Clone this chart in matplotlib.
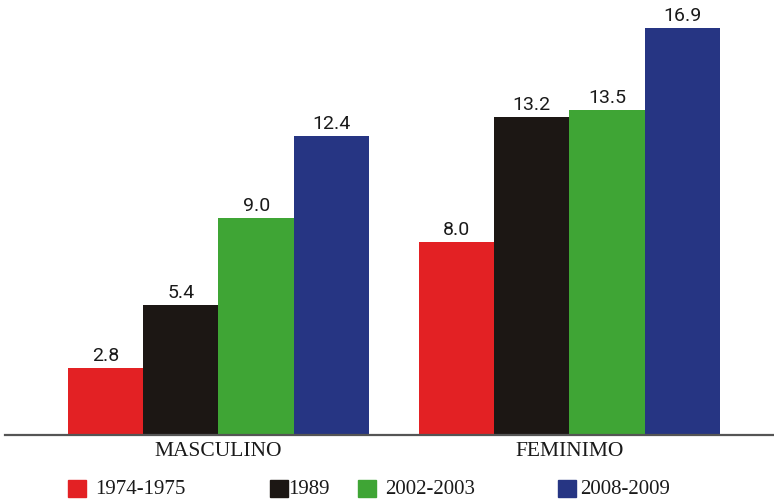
import matplotlib
matplotlib.use("Agg")

import matplotlib.pyplot as plt
import numpy as np

# Data
groups = ["MASCULINO", "FEMINIMO"]
periods = ["1974-1975", "1989", "2002-2003", "2008-2009"]
masculino = [2.8, 5.4, 9.0, 12.4]
feminimo = [8.0, 13.2, 13.5, 16.9]

COLORS = ["#E32124", "#1C1714", "#3FA535", "#263583"]

fig = plt.figure(figsize=(7.74, 4.99), dpi=100)
ax = fig.add_axes([5 / 774, 64 / 499, 769 / 774, 435 / 499])

width = 1.0
centers = np.array([0.0, 4.66])
offsets = (np.arange(len(periods)) - 1.5) * width
values = np.array([masculino, feminimo])

for i, period in enumerate(periods):
    bars = ax.bar(centers + offsets[i], values[:, i], width, color=COLORS[i],
                  label=period, zorder=2)
    for b, v in zip(bars, values[:, i]):
        ax.text(b.get_x() + b.get_width() / 2, v + 0.12, f"{v:.1f}",
                ha="center", va="bottom", fontsize=14, family="Roboto",
                color="#1a1a1a")

ax.set_xlim(-2.835, 7.377)
ax.set_ylim(0, 18.05)
for s in ["top", "right", "left"]:
    ax.spines[s].set_visible(False)
ax.spines["bottom"].set_color("#555555")
ax.spines["bottom"].set_linewidth(1.6)
ax.spines["bottom"].set_zorder(3)
ax.set_yticks([])
ax.set_xticks(centers)
ax.set_xticklabels(groups, family="Liberation Serif", fontsize=15.5, color="#1a1a1a")
ax.tick_params(axis="x", length=0, pad=5)

# legend row along the bottom
legend_x = [68, 270, 358, 558]
text_x = [95, 288, 385, 580]
for i, period in enumerate(periods):
    fig.patches.append(plt.Rectangle((legend_x[i] / 774, 2 / 499), 18 / 774, 17 / 499,
                                     transform=fig.transFigure, color=COLORS[i],
                                     figure=fig))
    fig.text(text_x[i] / 774, 10 / 499, period, ha="left", va="center",
             family="Liberation Serif", fontsize=15, color="#1a1a1a")

fig.savefig("out.png", dpi=100, facecolor="white")
